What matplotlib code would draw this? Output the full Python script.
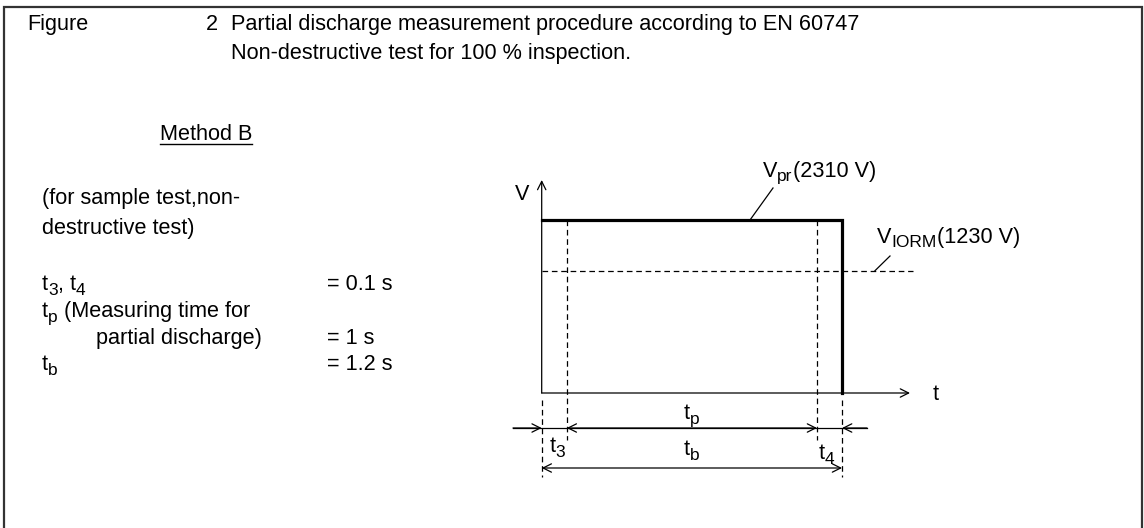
import numpy as np
import matplotlib
matplotlib.use("Agg")
import matplotlib.pyplot as plt

# ---------------- data ----------------
t3 = 0.1          # s
t4 = 0.1          # s
tp = 1.0          # s
tb = 1.2          # s
V_pr = 2310       # V
V_iorm = 1230     # V

fig_no = "2"
title_lines = ["Partial discharge measurement procedure according to EN 60747",
               "Non-destructive test for 100 % inspection."]
method = "Method B"
note_lines = ["(for sample test,non-", "destructive test)"]
# rich-text rows: list of (text, is_subscript)
param_labels = [[("t", 0), ("3", 1), (", t", 0), ("4", 1)],
                [("t", 0), ("p", 1), (" (Measuring time for", 0)],
                [("partial discharge)", 0)],
                [("t", 0), ("b", 1)]]
param_values = ["= 0.1 s", "", "= 1 s", "= 1.2 s"]

# ---------------- style ----------------
plt.rcParams["font.family"] = ["Liberation Sans", "DejaVu Sans"]
FS = 15.6
SUB = 0.8 * FS
W, H = 1144, 528

fig = plt.figure(figsize=(W / 100, H / 100), dpi=100)
bg = fig.add_axes([0, 0, 1, 1])
bg.set_xlim(0, W)
bg.set_ylim(H, 0)
bg.axis("off")
renderer = fig.canvas.get_renderer()


def rich(x, y, pieces, ha="left", drop=5):
    """Draw text pieces with subscripts, baseline at pixel y."""
    arts = []
    cx = x
    for s, sub in pieces:
        t = bg.text(cx, y + (drop if sub else 0), s, fontsize=SUB if sub else FS,
                    va="baseline", ha="left")
        w = t.get_window_extent(renderer=renderer).width
        arts.append(t)
        cx += w
    if ha == "center":
        shift = (cx - x) / 2
        for t in arts:
            px, py = t.get_position()
            t.set_position((px - shift, py))
    return cx


# frame (open at bottom)
bg.plot([4, 4, 1142, 1142], [H, 7, 7, H], color="#333333", lw=1.6, solid_joinstyle="miter")

# header
bg.text(27, 30, "Figure", fontsize=FS, va="baseline")
bg.text(206, 30, fig_no, fontsize=FS, va="baseline")
for i, s in enumerate(title_lines):
    bg.text(231, 30 + 29 * i, s, fontsize=FS, va="baseline")

# Method B (underlined)
mt = bg.text(160, 140, method, fontsize=FS, va="baseline")
bb = mt.get_window_extent(renderer=renderer)
bg.plot([bb.x0, bb.x1], [144, 144], color="black", lw=1.0)

# notes
for i, s in enumerate(note_lines):
    bg.text(42, 204 + 30 * i, s, fontsize=FS, va="baseline")
row_y = [290, 317, 344, 370]
row_x = [42, 42, 96, 42]
for lab, val, y, x in zip(param_labels, param_values, row_y, row_x):
    rich(x, y, lab)
    if val:
        bg.text(327, y, val, fontsize=FS, va="baseline")

# ---------------- diagram ----------------
X0, PX_S = 541.7, 250.3   # pixel of t=0, pixels per second
Y0, PX_U = 393.0, 173.0   # pixel of V=0, pixels per schematic unit
S_IORM = 0.707            # schematic height of V_IORM (drawing is not to scale)


def fwd(v):
    v = np.asarray(v, float)
    return np.where(v <= V_iorm, v * S_IORM / V_iorm,
                    S_IORM + (v - V_iorm) * (1 - S_IORM) / (V_pr - V_iorm))


def inv(s):
    s = np.asarray(s, float)
    return np.where(s <= S_IORM, s * V_iorm / S_IORM,
                    V_iorm + (s - S_IORM) * (V_pr - V_iorm) / (1 - S_IORM))


L, R, T, B = 480, 1000, 140, 500
ax = fig.add_axes([L / W, (H - B) / H, (R - L) / W, (B - T) / H])
ax.set_yscale("function", functions=(fwd, inv))
ax.set_xlim((L - X0) / PX_S, (R - X0) / PX_S)
ax.set_ylim(float(inv((Y0 - B) / PX_U)), float(inv((Y0 - T) / PX_U)))
ax.axis("off")


def tx(px):
    return (px - X0) / PX_S


def vy(py):
    return float(inv((Y0 - py) / PX_U))


def px_of_t(t):
    return X0 + PX_S * t


dash = dict(color="black", lw=0.9, linestyle=(0, (4.5, 3)))
ah = "->,head_length=0.6,head_width=0.3"
dah = "<->,head_length=0.6,head_width=0.3"
arw = dict(lw=0.9, color="black", shrinkA=0, shrinkB=0)

# axes arrows
ax.annotate("", xy=(0, vy(180)), xytext=(0, 0), arrowprops=dict(arrowstyle=ah, **arw))
ax.annotate("", xy=(tx(910), 0), xytext=(0, 0), arrowprops=dict(arrowstyle=ah, **arw))
ax.text(tx(522), vy(194), "V", fontsize=FS, ha="center", va="center")
ax.text(tx(936), vy(395), "t", fontsize=FS, ha="center", va="center")

# pulse
ax.plot([0, tb, tb], [V_pr, V_pr, 0], color="black", lw=2.3, solid_joinstyle="miter")

# V_IORM level
ax.plot([0, tx(913)], [V_iorm, V_iorm], **dash)

# measuring window markers
ax.plot([t3, t3], [V_pr, vy(440)], **dash)
ax.plot([tb - t4, tb - t4], [V_pr, vy(440)], **dash)
ax.plot([0, 0], [vy(400), vy(477)], **dash)
ax.plot([tb, tb], [vy(400), vy(477)], **dash)

# leaders and labels
ax.plot([tx(750), tx(773)], [V_pr, vy(188)], color="black", lw=0.9)
ax.plot([tx(875), tx(890)], [V_iorm, vy(256)], color="black", lw=0.9)
rich(763, 177, [("V", 0), ("pr", 1), ("(2310 V)", 0)], drop=4)
rich(877, 243, [("V", 0), ("IORM", 1), ("(1230 V)", 0)], drop=4)

# dimension row 1
yd = vy(428)
ax.plot([tx(513), tx(867)], [yd, yd], color="black", lw=0.9)
ax.annotate("", xy=(0, yd), xytext=(tx(513), yd), arrowprops=dict(arrowstyle=ah, **arw))
ax.annotate("", xy=(t3, yd), xytext=(tb - t4, yd), arrowprops=dict(arrowstyle=dah, **arw))
ax.annotate("", xy=(tb, yd), xytext=(tx(867), yd), arrowprops=dict(arrowstyle=ah, **arw))

# dimension row 2
yb = vy(468)
ax.annotate("", xy=(0, yb), xytext=(tb, yb), arrowprops=dict(arrowstyle=dah, **arw))

rich(px_of_t((t3 + tb - t4) / 2), 419, [("t", 0), ("p", 1)], ha="center")
rich(557, 452, [("t", 0), ("3", 1)], ha="center")
rich(px_of_t(tb / 2), 455, [("t", 0), ("b", 1)], ha="center")
rich(826, 459, [("t", 0), ("4", 1)], ha="center")

fig.savefig("out.png", dpi=100)
